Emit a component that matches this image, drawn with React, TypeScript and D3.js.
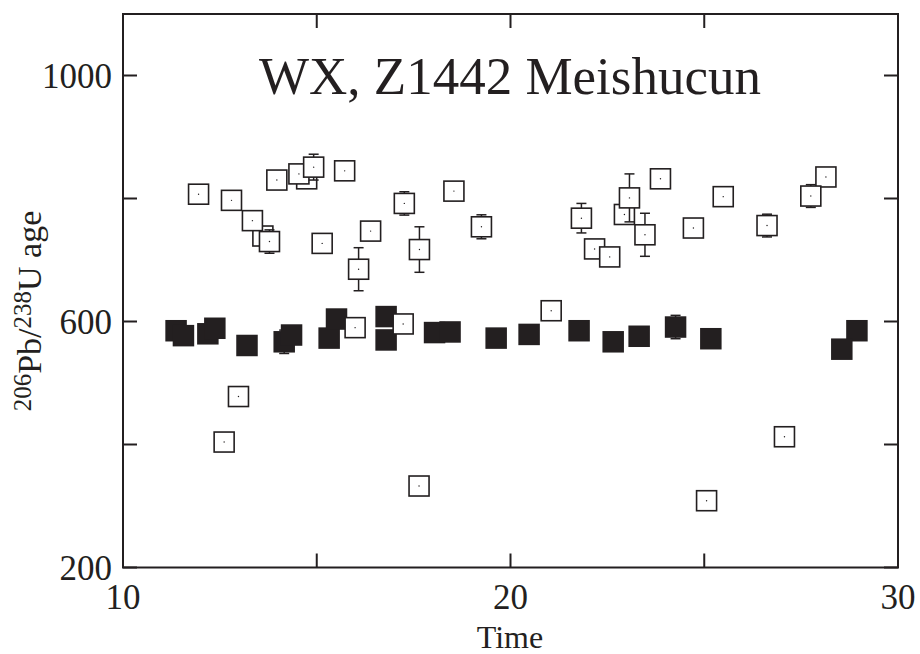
import React from "react";
import * as d3 from "d3";

// Filled squares (concordant group ~580 Ma)
const filledTime = [11.37, 11.56, 12.19, 12.37, 13.2, 14.16, 14.35, 15.32, 15.51, 16.79, 16.79, 18.04, 18.44, 19.63, 20.48, 21.77, 22.65, 23.32, 24.26, 25.17, 28.94, 28.55];
const filledAge = [585, 577, 580, 589, 561, 567, 578, 573, 604, 608, 570, 582, 583, 573, 579, 585, 567, 576, 591, 572, 585, 555];
const filledErr = [0, 0, 0, 0, 0, 19, 0, 0, 0, 0, 0, 0, 0, 0, 0, 0, 0, 0, 19, 0, 0, 0];

// Open squares (in drawing order)
const openTime = [11.95, 12.8, 13.61, 13.34, 13.78, 13.97, 14.74, 14.54, 14.92, 15.72, 15.14, 16.39, 16.08, 17.26, 17.65, 18.54, 19.25, 21.83, 22.17, 22.56, 22.94, 23.07, 23.47, 23.87, 24.72, 25.49, 26.62, 28.14, 27.75, 15.99, 17.23, 12.98, 12.61, 17.64, 21.05, 27.07, 25.06];
const openAge = [807, 797, 739, 764, 730, 830, 832, 840, 851, 845, 727, 747, 685, 792, 717, 812, 754, 768, 718, 705, 774, 801, 741, 832, 752, 803, 756, 835, 804, 590, 596, 478, 404, 332.5, 617.5, 412.6, 308.6];
const openErr = [0, 0, 0, 0, 19, 0, 0, 0, 21, 0, 0, 0, 35, 19, 37, 0, 19.5, 24, 0, 0, 0, 39, 35, 0, 0, 0, 18.5, 0, 18.5, 0, 0, 0, 0, 0, 0, 0, 0];

const xTicks = [10, 15, 20, 25, 30];
const xTickLabels = ["10", "", "20", "", "30"];
const yTicks = [200, 400, 600, 800, 1000];
const yTickLabels = ["200", "", "600", "", "1000"];

const title = "WX, Z1442 Meishucun";
const xTitle = "Time";

export default function App() {
  const W = 920, H = 654;
  const left = 123, right = 898, top = 14, bottom = 567.5;
  const x = d3.scaleLinear().domain([10, 30]).range([left, right]);
  const y = d3.scaleLinear().domain([200, 1100]).range([bottom, top]);
  const ink = "#231f20";
  const font = "'Liberation Serif', 'Times New Roman', serif";
  const tl = 14;
  const sq = 21.5;
  const so = 20;

  const errBar = (cx: number, v: number, e: number, key: string) => {
    if (!e) return null;
    const y1 = y(v + e), y2 = y(v - e);
    return (
      <g key={key} stroke={ink} strokeWidth={1.5}>
        <line x1={cx} x2={cx} y1={y1} y2={y2} />
        <line x1={cx - 5} x2={cx + 5} y1={y1} y2={y1} />
        <line x1={cx - 5} x2={cx + 5} y1={y2} y2={y2} />
      </g>
    );
  };

  return (
    <svg width={W} height={H} style={{ position: "absolute", left: 0, top: 0, background: "#fff" }}>
      <rect x={0} y={0} width={W} height={H} fill="#fff" />
      {/* ticks */}
      <g stroke={ink} strokeWidth={2}>
        {xTicks.map((t, i) => (
          <g key={"xt" + i}>
            <line x1={x(t)} x2={x(t)} y1={bottom} y2={bottom - tl} />
            <line x1={x(t)} x2={x(t)} y1={top} y2={top + tl} />
          </g>
        ))}
        {yTicks.map((t, i) => (
          <g key={"yt" + i}>
            <line x1={left} x2={left + tl} y1={y(t)} y2={y(t)} />
            <line x1={right} x2={right - tl} y1={y(t)} y2={y(t)} />
          </g>
        ))}
      </g>
      {/* data: filled */}
      {filledTime.map((t, i) => errBar(x(t), filledAge[i], filledErr[i], "fe" + i))}
      {filledTime.map((t, i) => (
        <rect key={"f" + i} x={x(t) - sq / 2} y={y(filledAge[i]) - sq / 2} width={sq} height={sq} fill={ink} />
      ))}
      {/* data: open */}
      {openTime.map((t, i) => (
        <g key={"o" + i}>
          {errBar(x(t), openAge[i], openErr[i], "oe" + i)}
          <rect x={x(t) - so / 2} y={y(openAge[i]) - so / 2} width={so} height={so} fill="#fff" stroke={ink} strokeWidth={1.6} />
          <circle cx={x(t)} cy={y(openAge[i])} r={0.7} fill={ink} />
        </g>
      ))}
      {/* frame */}
      <rect x={left} y={top} width={right - left} height={bottom - top} fill="none" stroke={ink} strokeWidth={2} />
      {/* tick labels */}
      <g fontFamily={font} fontSize={35} fill={ink}>
        {xTicks.map((t, i) => (
          <text key={"xl" + i} x={x(t)} y={609} textAnchor="middle">{xTickLabels[i]}</text>
        ))}
        {yTicks.map((t, i) => (
          <text key={"yl" + i} x={112} y={y(t) + 12} textAnchor="end">{yTickLabels[i]}</text>
        ))}
      </g>
      <text x={510} y={648} textAnchor="middle" fontFamily={font} fontSize={32} fill={ink}>{xTitle}</text>
      <text x={510} y={94} textAnchor="middle" fontFamily={font} fontSize={53} fill={ink}>{title}</text>
      <text transform="translate(41,311) rotate(-90)" textAnchor="middle" fontFamily={font} fontSize={34} fill={ink}>
        <tspan fontSize={25} dy={-10}>206</tspan>
        <tspan dy={10}>Pb/</tspan>
        <tspan fontSize={25} dy={-10}>238</tspan>
        <tspan dy={10}>U age</tspan>
      </text>
    </svg>
  );
}
